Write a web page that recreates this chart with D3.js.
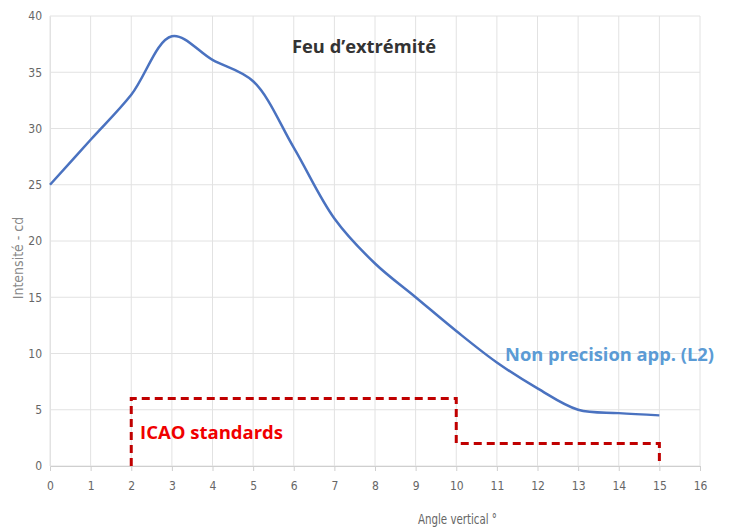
<!DOCTYPE html>
<html>
<head>
<meta charset="utf-8">
<script src="https://cdn.jsdelivr.net/npm/d3@7"></script>
<style>
  body { margin: 0; background: #fff; }
  .tick text { font-family: "Liberation Sans Narrow", "DejaVu Sans Condensed", sans-serif; font-size: 12px; fill: #666; }
  .grid line { stroke: #e2e2e2; }
</style>
</head>
<body>
<script>
// data
var angles = [0, 1, 2, 3, 4, 5, 6, 7, 8, 9, 10, 11, 12, 13, 14, 15];
var intensity = [25, 29, 33, 38.2, 36.1, 34.2, 28.3, 22, 18, 15, 12, 9.2, 6.9, 5, 4.7, 4.5];
var icaoAngles = [2, 2, 10, 10, 15, 15];
var icaoValues = [0, 6, 6, 2, 2, 0];
var xTicks = d3.range(0, 17);
var yTicks = [0, 5, 10, 15, 20, 25, 30, 35, 40];

var outerWidth = 730, outerHeight = 528;
var margin = {top: 16, right: 30, bottom: 62, left: 50},
    width = outerWidth - margin.left - margin.right,
    height = outerHeight - margin.top - margin.bottom;

var x = d3.scaleLinear().domain([0, 16]).range([0, width]);
var y = d3.scaleLinear().domain([0, 40]).range([height, 0]);

var svg = d3.select("body").append("svg")
    .attr("width", outerWidth)
    .attr("height", outerHeight)
  .append("g")
    .attr("transform", `translate(${margin.left},${margin.top})`);

// grid
svg.append("g").attr("class", "grid")
    .selectAll("line").data(xTicks).enter().append("line")
    .attr("x1", d => x(d)).attr("x2", d => x(d))
    .attr("y1", 0).attr("y2", height);
svg.append("g").attr("class", "grid")
    .selectAll("line").data(yTicks).enter().append("line")
    .attr("x1", 0).attr("x2", width)
    .attr("y1", d => y(d)).attr("y2", d => y(d));

// axes
var xAxis = svg.append("g")
    .attr("transform", "translate(0," + height + ")")
    .call(d3.axisBottom(x).tickValues(xTicks).tickSize(5).tickPadding(10));
xAxis.select(".domain").attr("stroke", "#cfcfcf");
xAxis.selectAll(".tick line").attr("stroke", "#cfcfcf");

var yAxis = svg.append("g")
    .call(d3.axisLeft(y).tickValues(yTicks).tickSize(0).tickPadding(8));
yAxis.select(".domain").attr("stroke", "#e2e2e2");

// ICAO standards step
svg.append("path")
    .datum(icaoAngles.map((a, i) => [a, icaoValues[i]]))
    .attr("fill", "none")
    .attr("stroke", "#c00000")
    .attr("stroke-width", 3)
    .attr("stroke-dasharray", "8,5")
    .attr("d", d3.line().x(d => x(d[0])).y(d => y(d[1])));

// intensity curve
svg.append("path")
    .datum(angles.map((a, i) => [a, intensity[i]]))
    .attr("fill", "none")
    .attr("stroke", "#4a72c0")
    .attr("stroke-width", 2.5)
    .attr("d", d3.line().curve(d3.curveCatmullRom.alpha(0.5)).x(d => x(d[0])).y(d => y(d[1])));

// labels
var labelFont = "'Open Sans', Lato, sans-serif";
svg.append("text")
    .attr("x", 242).attr("y", 37)
    .attr("textLength", 144).attr("lengthAdjust", "spacingAndGlyphs")
    .style("font-family", labelFont)
    .style("font-weight", "bold").style("font-size", "17px")
    .attr("fill", "#333")
    .text("Feu d’extrémité");

svg.append("text")
    .attr("x", 455).attr("y", 345)
    .attr("textLength", 209).attr("lengthAdjust", "spacingAndGlyphs")
    .style("font-family", labelFont)
    .style("font-weight", "bold").style("font-size", "17px")
    .attr("fill", "#5b9bd5")
    .text("Non precision app. (L2)");

svg.append("text")
    .attr("x", 90).attr("y", 423)
    .attr("textLength", 143).attr("lengthAdjust", "spacingAndGlyphs")
    .style("font-family", labelFont)
    .style("font-weight", "bold").style("font-size", "17px")
    .attr("fill", "#f00000")
    .text("ICAO standards");

svg.append("text")
    .attr("x", 368).attr("y", height + 58)
    .attr("textLength", 79).attr("lengthAdjust", "spacingAndGlyphs")
    .style("font-family", "'Liberation Sans Narrow', 'DejaVu Sans Condensed', sans-serif")
    .style("font-size", "14px")
    .attr("fill", "#666")
    .text("Angle vertical °");

svg.append("text")
    .attr("transform", "translate(-27," + (height / 2 + 17) + ") rotate(-90)")
    .attr("text-anchor", "middle")
    .style("font-family", "'Liberation Sans Narrow', 'DejaVu Sans Condensed', sans-serif")
    .style("font-size", "14px")
    .attr("fill", "#888")
    .text("Intensité - cd");
</script>
</body>
</html>
